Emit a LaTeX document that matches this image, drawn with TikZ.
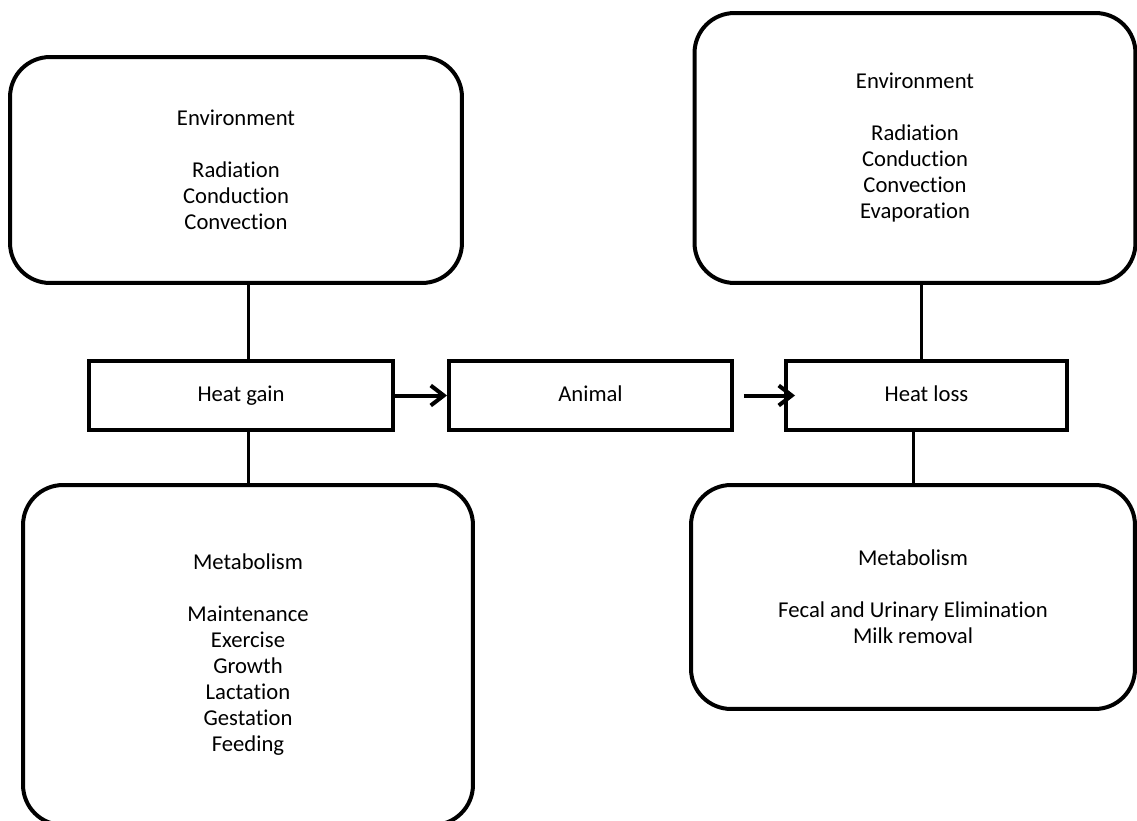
\documentclass[tikz,border=0pt]{standalone}
\usepackage{fontspec}
\setmainfont[Ligatures=NoCommon]{Carlito}
\usetikzlibrary{arrows.meta}

\tikzset{
  bigbox/.style={draw, line width=0.08cm, rounded corners=0.8cm},
  smallbox/.style={draw, line width=0.08cm, minimum height=1.38cm, text height=0.82em, text depth=0.1em},
  link/.style={line width=0.06cm},
  flow/.style={->, line width=0.08cm}
}

\begin{document}
\begin{tikzpicture}[x=0.02cm, y=-0.02cm, >={Straight Barb[length=0.26cm,width=0.4cm]},
    every node/.style={font=\fontsize{12.9}{14.8}\selectfont, align=center, inner sep=0pt}]
  \clip (0,0) rectangle (1137,821);
  \fill[white] (0,0) rectangle (1137,821);

  % Boxes at the top
  \node[bigbox, minimum width=9.04cm, minimum height=4.52cm] (envgain) at (236,170)
    {Environment\\[14.8pt]Radiation\\Conduction\\Convection};
  \node[bigbox, minimum width=8.82cm, minimum height=5.4cm] (envloss) at (915,148)
    {Environment\\[14.8pt]Radiation\\Conduction\\Convection\\Evaporation};

  % Middle row
  \node[smallbox, minimum width=6.08cm] (heatgain) at (241,395.5) {Heat gain};
  \node[smallbox, minimum width=5.66cm] (animal) at (590.5,395.5) {Animal};
  \node[smallbox, minimum width=5.62cm] (heatloss) at (926.5,395.5) {Heat loss};

  % Boxes at the bottom
  \node[bigbox, minimum width=9.0cm, minimum height=6.8cm] (metgain) at (248,655)
    {Metabolism\\[14.8pt]Maintenance\\Exercise\\Growth\\Lactation\\Gestation\\Feeding};
  \node[bigbox, minimum width=8.88cm, minimum height=4.48cm] (metloss) at (913,597)
    {Metabolism\\[14.8pt]Fecal and Urinary Elimination\\Milk removal};

  % Connectors
  \draw[link] (metgain.north |- heatgain.north) -- (metgain.north |- envgain.south);
  \draw[link] (metgain.north) -- (metgain.north |- heatgain.south);
  \draw[link] (envloss.south -| 921,0) -- (heatloss.north -| 921,0);
  \draw[link] (metloss.north) -- (metloss.north |- heatloss.south);

  \draw[flow] (heatgain) -- (animal);
  \draw[flow, shorten <=0.2cm, shorten >=-0.22cm] (animal) -- (heatloss);
\end{tikzpicture}
\end{document}
